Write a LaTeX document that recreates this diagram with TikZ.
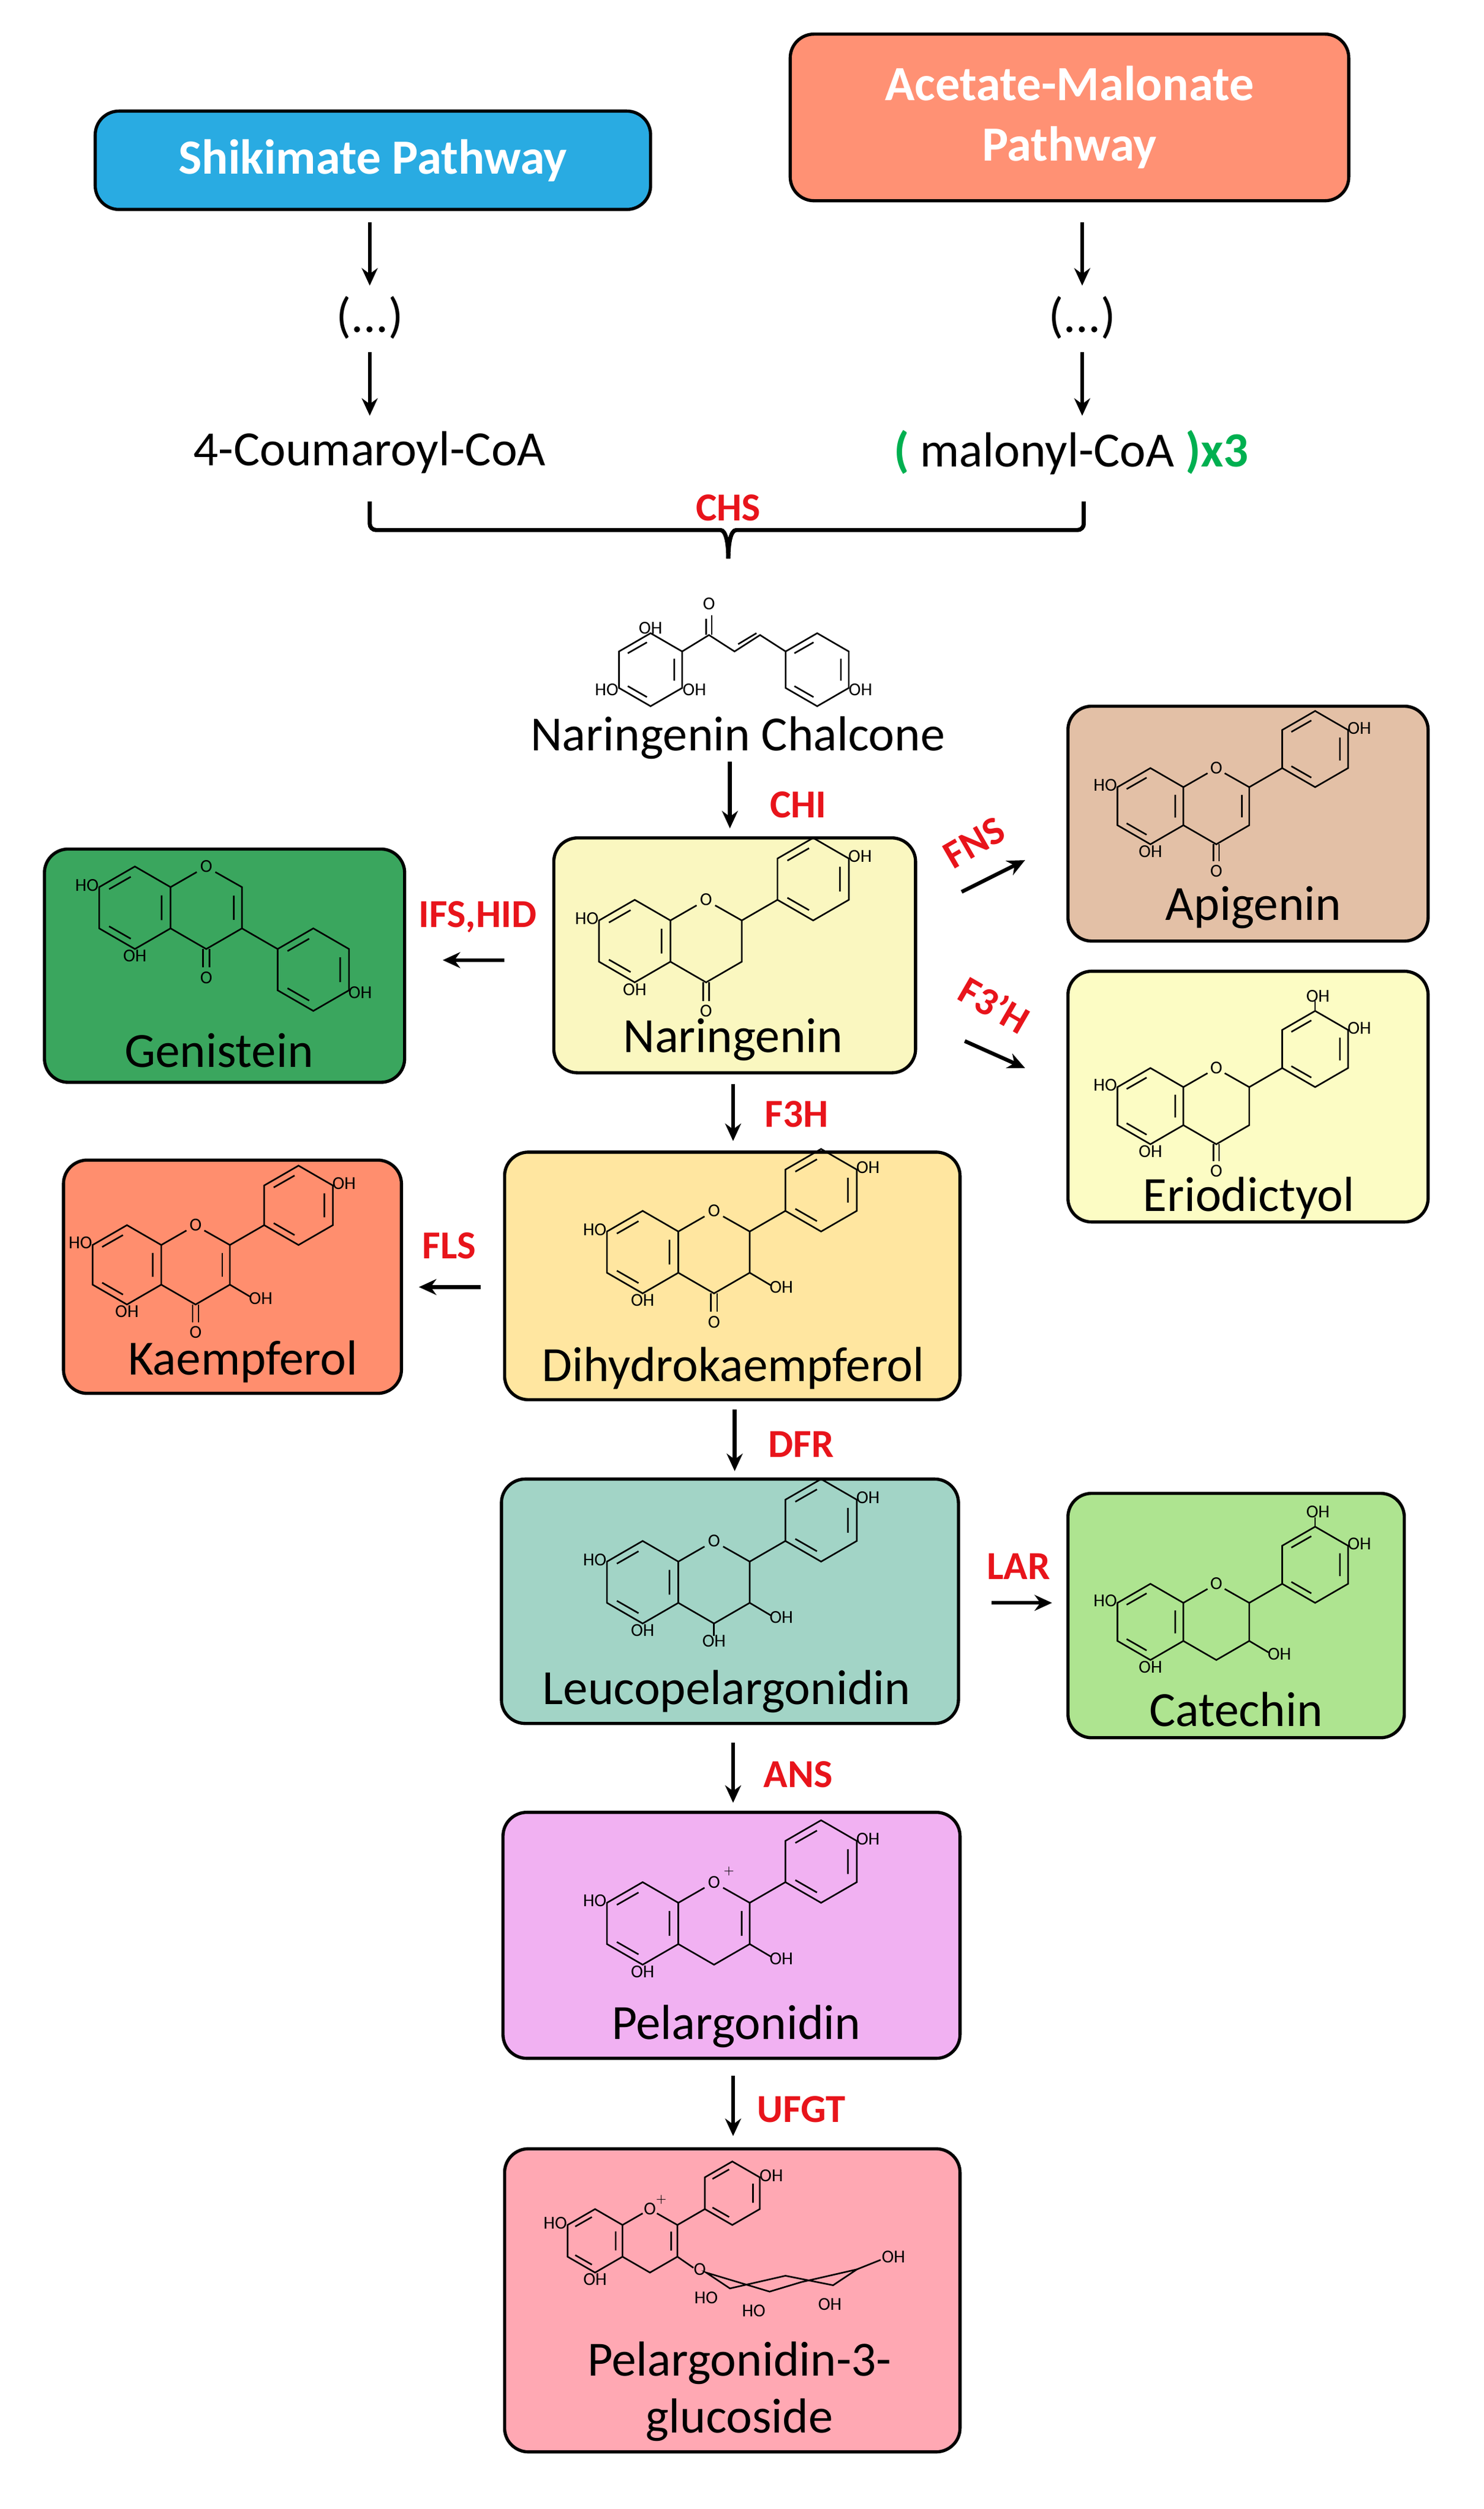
\documentclass[tikz,border=0pt]{standalone}
\usepackage{fontspec}
\setmainfont{Carlito}
\usetikzlibrary{arrows.meta}
\definecolor{enzred}{HTML}{E8141B}
\definecolor{grn}{HTML}{00B050}
\newcommand\ring[1]{\begin{scope}[shift={(#1)}]
 \draw[bond] (17.3,-10)--(0,-20)--(-17.3,-10)--(-17.3,10)--(0,20)--(17.3,10)--cycle;
 \draw[bond] (-2,-15)--(-12.5,-9) (-12.5,9)--(-2,15) (13,-6)--(13,6);
\end{scope}}
\newcommand\Aring{\ring{0,0}\node[oh,left] at (-17,-11){HO};\node[oh,below] at (0,20){OH};}
\newcommand\Cring{\draw[bond] (17.3,-10)--(30,-17.3) (39,-17.3)--(51.9,-10)--(51.9,10)--(34.6,20)--(17.3,10);\node[oh] at (34.6,-20){O};}
\newcommand\Bup{\draw[bond] (51.9,-10)--(69.2,-20);\ring{86.5,-30}\node[oh,right] at (103,-41){OH};}
\newcommand\catechol{\draw[bond](86.5,-50)--(86.5,-55);\node[oh,above] at (88,-54){OH};}
\newcommand\keto{\draw[bond] (33.1,20)--(33.1,29) (36.1,20)--(36.1,29);\node[oh] at (34.6,34){O};}
\newcommand\dbl{\draw[bond] (48,-6)--(48,6);}
\newcommand\ohthree{\draw[bond] (51.9,10)--(62,16);\node[oh,right] at (61,17){OH};}
\newcommand\ohfour{\draw[bond] (34.6,20)--(34.6,26);\node[oh,below] at (34.6,25){OH};}
\begin{document}
\begin{tikzpicture}[x=1pt,y=-1pt,
 bond/.style={line width=1pt},
 oh/.style={font=\fontsize{11.5}{12}\selectfont,inner sep=0.5pt},
 box/.style={draw=black,line width=2pt,rounded corners=15pt,inner sep=0pt},
 arr/.style={-{Stealth[length=11pt,width=10pt]},line width=2.4pt},
 enz/.style={text=enzred,font=\fontsize{25}{27}\selectfont\bfseries,inner sep=0pt},
 lbl/.style={font=\fontsize{31}{34}\selectfont,inner sep=0pt},
 hdr/.style={text=white,font=\fontsize{31}{38}\selectfont\bfseries,align=center}]
\useasboundingbox (0,0) rectangle (935,1581);
\fill[white] (0,0) rectangle (935,1581);
% boxes
\node[box,fill={rgb,255:red,41;green,171;blue,226},minimum width=350pt,minimum height=62pt] (shik) at (235,101) {};
\node[hdr] at (235,101) {Shikimate Pathway};
\node[box,fill={rgb,255:red,255;green,145;blue,116},minimum width=352pt,minimum height=105pt] (acet) at (674,74) {};
\node[hdr] at (674,74) {Acetate-Malonate\\Pathway};
\node[box,fill={rgb,255:red,250;green,247;blue,192},minimum width=228pt,minimum height=148pt] (nar) at (463,602) {};
\node[box,fill={rgb,255:red,58;green,166;blue,94},minimum width=227pt,minimum height=147pt] (gen) at (141.5,608.5) {};
\node[box,fill={rgb,255:red,227;green,192;blue,166},minimum width=227pt,minimum height=148pt] (api) at (786.5,519) {};
\node[box,fill={rgb,255:red,252;green,252;blue,196},minimum width=227pt,minimum height=158pt] (eri) at (786.5,691) {};
\node[box,fill={rgb,255:red,255;green,230;blue,160},minimum width=287pt,minimum height=156pt] (dhk) at (461.5,804) {};
\node[box,fill={rgb,255:red,255;green,142;blue,110},minimum width=213pt,minimum height=147pt] (kae) at (146.5,804.5) {};
\node[box,fill={rgb,255:red,162;green,212;blue,198},minimum width=288pt,minimum height=154pt] (leu) at (460,1009) {};
\node[box,fill={rgb,255:red,174;green,228;blue,144},minimum width=212pt,minimum height=154pt] (cat) at (779,1018) {};
\node[box,fill={rgb,255:red,241;green,177;blue,242},minimum width=288pt,minimum height=155pt] (pel) at (461,1219.5) {};
\node[box,fill={rgb,255:red,255;green,168;blue,179},minimum width=287pt,minimum height=191pt] (glu) at (461.5,1449.5) {};
% labels
\node[lbl] (tnar) at (462,655) {Naringenin};
\node[lbl] (tgen) at (138,662) {Genistein};
\node[lbl] (tapi) at (790,572) {Apigenin};
\node[lbl] (teri) at (787,755) {Eriodictyol};
\node[lbl] (tdhk) at (462,862) {Dihydrokaempferol};
\node[lbl] (tkae) at (153,858) {Kaempferol};
\node[lbl] (tleu) at (458,1066) {Leucopelargonidin};
\node[lbl] (tcat) at (779,1077) {Catechin};
\node[lbl] (tpel) at (464,1277) {Pelargonidin};
\node[lbl,align=center] (tglu) at (466,1507) {Pelargonidin-3-\\[2pt]glucoside};
\node[lbl] (dl) at (233,200) {(...)};
\node[lbl] (dr) at (682,200) {(...)};
\node[lbl] (cou) at (233,285) {4-Coumaroyl-CoA};
\node[lbl] (mal) at (675,285) {{\color{grn}\bfseries(} malonyl-CoA {\color{grn}\bfseries)x3}};
\node[lbl] (chal) at (465,465) {Naringenin Chalcone};
% upper arrows
\coordinate (a1) at (233,140); \coordinate (a2) at (233,180);
\coordinate (a3) at (233,222); \coordinate (a4) at (233,262);
\coordinate (b1) at (682,140); \coordinate (b2) at (682,180);
\coordinate (b3) at (682,222); \coordinate (b4) at (682,262);
\draw[arr] (a1)--(a2); \draw[arr] (a3)--(a4);
\draw[arr] (b1)--(b2); \draw[arr] (b3)--(b4);
% brace
\draw[line width=2.6pt,rounded corners=4pt] (233,316)--(233,334)--(450,334) to[out=0,in=90] (459,352);
\draw[line width=2.6pt,rounded corners=4pt] (683,316)--(683,334)--(468,334) to[out=180,in=90] (459,352);
\node[enz] at (459,320) {CHS};
% main arrows
\coordinate (c1) at (460,480); \coordinate (c2) at (460,522);
\draw[arr] (c1)--(c2); \node[enz] at (503,507) {CHI};
\coordinate (d1) at (462,683); \coordinate (d2) at (462,719);
\draw[arr] (d1)--(d2); \node[enz] at (502,702) {F3H};
\coordinate (e1) at (463,888); \coordinate (e2) at (463,927);
\draw[arr] (e1)--(e2); \node[enz] at (505,910) {DFR};
\coordinate (f1) at (462,1098); \coordinate (f2) at (462,1136);
\draw[arr] (f1)--(f2); \node[enz] at (503,1118) {ANS};
\coordinate (g1) at (462,1308); \coordinate (g2) at (462,1346);
\draw[arr] (g1)--(g2); \node[enz] at (505,1329) {UFGT};
% side arrows
\coordinate (h1) at (318,605); \coordinate (h2) at (279,605);
\draw[arr] (h1)--(h2); \node[enz] at (301,578) {IFS,HID};
\coordinate (i1) at (303,811); \coordinate (i2) at (264,811);
\draw[arr] (i1)--(i2); \node[enz] at (283,785) {FLS};
\coordinate (j1) at (625,1010); \coordinate (j2) at (663,1010);
\draw[arr] (j1)--(j2); \node[enz] at (642,987) {LAR};
\coordinate (k1) at (606,562); \coordinate (k2) at (646,542);
\draw[arr] (k1)--(k2); \node[enz,rotate=30] at (614,531) {FNS};
\coordinate (l1) at (608,656); \coordinate (l2) at (646,673);
\draw[arr] (l1)--(l2); \node[enz,rotate=-30] at (627,633) {F3'H};
% chalcone structure
\begin{scope}[shift={(410,422)},scale=1.15]
\ring{0,0}
\node[oh,above] at (0,-19){OH};
\node[oh,left] at (-17,11){HO};
\node[oh,right] at (17,11){OH};
\draw[bond] (17.3,-10)--(32,-19)--(46,-10)--(60,-19)--(74,-10);
\draw[bond] (33.5,-19)--(33.5,-30) (30.5,-19)--(30.5,-28);
\node[oh] at (32,-36){O};
\draw[bond] (48,-14)--(58,-20);
\ring{91.3,0}
\node[oh,right] at (108,11){OH};
\end{scope}
% molecules
\begin{scope}[shift={(400,593)},scale=1.3]\Aring\Cring\Bup\keto\end{scope}
\begin{scope}[shift={(85,572)},scale=1.3]\Aring
 \draw[bond] (17.3,-10)--(30,-17.3) (39,-17.3)--(51.9,-10)--(51.9,10)--(34.6,20)--(17.3,10);\node[oh] at (34.6,-20){O};
 \draw[bond] (48,-6)--(48,6);\keto
 \draw[bond] (51.9,10)--(69.2,20);\ring{86.5,30}\node[oh,right] at (103,41){OH};
\end{scope}
\begin{scope}[shift={(725,508)},scale=1.2]\Aring\Cring\dbl\Bup\keto\end{scope}
\begin{scope}[shift={(725,697)},scale=1.2]\Aring\Cring\Bup\catechol\keto\end{scope}
\begin{scope}[shift={(405,789)},scale=1.3]\Aring\Cring\Bup\keto\ohthree\end{scope}
\begin{scope}[shift={(80,797)},scale=1.25]\Aring\Cring\dbl\Bup\keto\ohthree\end{scope}
\begin{scope}[shift={(405,997)},scale=1.3]\Aring\Cring\Bup\ohthree\ohfour\end{scope}
\begin{scope}[shift={(725,1022)},scale=1.2]\Aring\Cring\Bup\catechol\ohthree\end{scope}
\begin{scope}[shift={(405,1212)},scale=1.3]\Aring\Cring\dbl\Bup\ohthree
 \node[oh] at (42,-24){$^{+}$};\end{scope}
\begin{scope}[shift={(375,1412)},scale=1.0]\Aring\Cring\dbl\Bup
 \node[oh] at (42,-24){$^{+}$};
 \draw[bond] (51.9,10)--(62,17);\node[oh] at (66,18){O};
 \draw[bond] (70,20)--(85,30)--(120,22)--(150,28)--(165,18)--(130,26)--(110,32)--cycle;
 \node[oh] at (70,36){HO}; \node[oh] at (100,44){HO}; \node[oh] at (148,40){OH};
 \draw[bond] (165,18)--(180,12); \node[oh,right] at (180,10){OH};
\end{scope}
\end{tikzpicture}
\end{document}
